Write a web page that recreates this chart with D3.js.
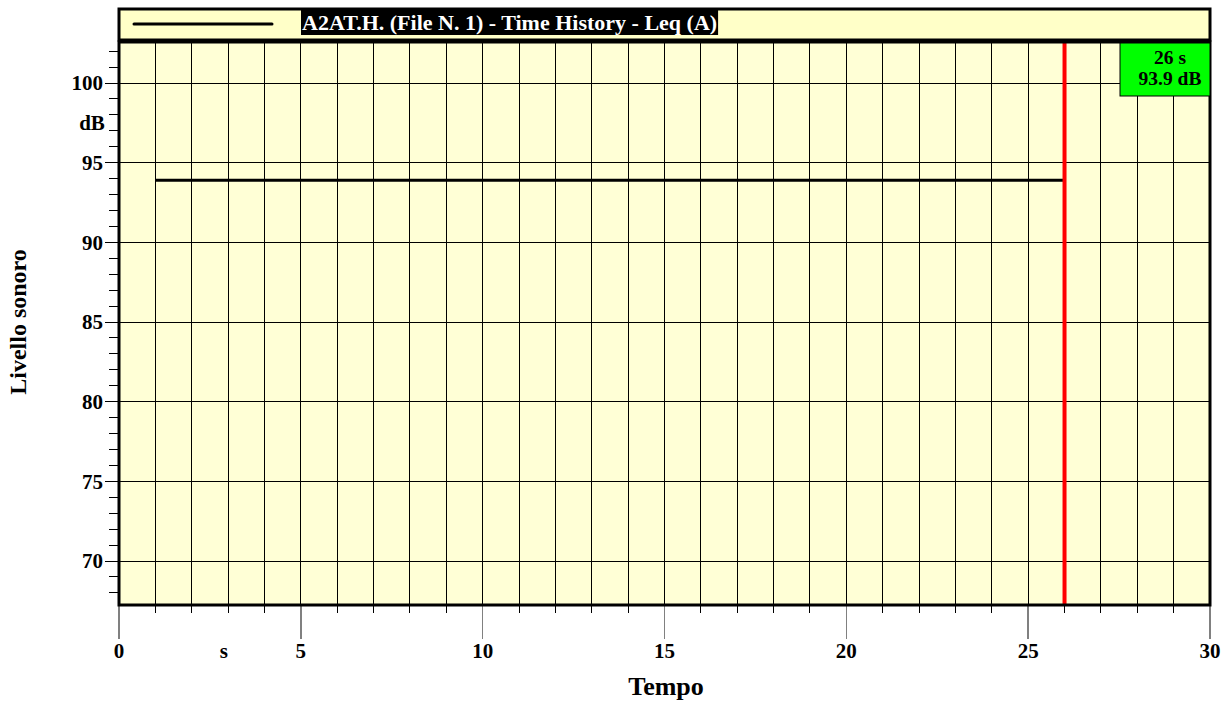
<!DOCTYPE html>
<html><head><meta charset="utf-8">
<script src="https://cdn.jsdelivr.net/npm/d3@7"></script>
<style>
body{margin:0;background:#fff;}
text{font-family:"Liberation Serif","Times New Roman",serif;font-weight:bold;}
</style></head>
<body>
<svg id="c" width="1231" height="702"></svg>
<script>
// Data
const times = [1,2,3,4,5,6,7,8,9,10,11,12,13,14,15,16,17,18,19,20,21,22,23,24,25,26];
const leq   = [93.9,93.9,93.9,93.9,93.9,93.9,93.9,93.9,93.9,93.9,93.9,93.9,93.9,93.9,93.9,93.9,93.9,93.9,93.9,93.9,93.9,93.9,93.9,93.9,93.9,93.9];
const xTickLabels = [0,5,10,15,20,25,30];
const yTickLabels = [70,75,80,85,90,95,100];
const cursorTime = 26;
const cursorValue = 93.9;
const seriesName = "A2AT.H. (File N. 1) - Time History - Leq (A)";

const svg = d3.select("#c");
const L = 119, R = 1210, T = 42, B = 605;
const x = d3.scaleLinear().domain([0,30]).range([L,R]);
const y = d3.scaleLinear().domain([70,100]).range([561,83]);

// plot background
svg.append("rect").attr("x",L).attr("y",T).attr("width",R-L).attr("height",B-T).attr("fill","#ffffd6");

// vertical grid every 1 s
const g = svg.append("g").attr("shape-rendering","crispEdges");
d3.range(1,30).forEach(v=>{
  g.append("line").attr("x1",x(v)).attr("x2",x(v)).attr("y1",T).attr("y2",B).attr("stroke","#000").attr("stroke-width",1);
});
// horizontal grid every 5 dB
yTickLabels.forEach(v=>{
  g.append("line").attr("x1",L).attr("x2",R).attr("y1",y(v)).attr("y2",y(v)).attr("stroke","#000").attr("stroke-width",1);
});

// y ticks (minor 1 dB, major 5 dB)
d3.range(68,103).forEach(v=>{
  const major = v%5===0;
  g.append("line").attr("x1",major?105:109).attr("x2",L).attr("y1",y(v)).attr("y2",y(v)).attr("stroke","#000");
});
yTickLabels.forEach(v=>{
  svg.append("text").attr("x",103).attr("y",y(v)).attr("dy","0.35em").attr("text-anchor","end").attr("font-size",21).text(v);
});
svg.append("text").attr("x",92).attr("y",y(97.5)).attr("dy","0.35em").attr("text-anchor","middle").attr("font-size",21).text("dB");

// x ticks
d3.range(0,31).forEach(v=>{
  const major = v%5===0;
  g.append("line").attr("x1",x(v)).attr("x2",x(v)).attr("y1",B).attr("y2",major?639:613)
    .attr("stroke",major?"#808080":"#000").attr("stroke-width",major?1.5:1);
});
xTickLabels.forEach(v=>{
  svg.append("text").attr("x",x(v)).attr("y",658).attr("text-anchor","middle").attr("font-size",21).text(v);
});
svg.append("text").attr("x",x(2.88)).attr("y",658).attr("text-anchor","middle").attr("font-size",21).text("s");

// axis titles
svg.append("text").attr("x",666).attr("y",695).attr("text-anchor","middle").attr("font-size",26).text("Tempo");
svg.append("text").attr("transform","translate(26,322) rotate(-90)").attr("text-anchor","middle").attr("font-size",24).text("Livello sonoro");

// data line
const line = d3.line().x((d,i)=>x(times[i])).y(d=>y(d));
svg.append("path").datum(leq).attr("d",line).attr("fill","none").attr("stroke","#000").attr("stroke-width",3);

// cursor
svg.append("line").attr("x1",x(cursorTime)).attr("x2",x(cursorTime)).attr("y1",T).attr("y2",B).attr("stroke","#ff0000").attr("stroke-width",4);

// plot border
svg.append("rect").attr("x",L).attr("y",T).attr("width",R-L).attr("height",B-T).attr("fill","none").attr("stroke","#000").attr("stroke-width",3);

// cursor readout box
svg.append("rect").attr("x",1120).attr("y",T+1).attr("width",R-1120).attr("height",53).attr("fill","#00ff00").attr("stroke","#000").attr("stroke-width",1);
svg.append("text").attr("x",1170).attr("y",64).attr("text-anchor","middle").attr("font-size",19.5).text(cursorTime+" s");
svg.append("text").attr("x",1170).attr("y",85).attr("text-anchor","middle").attr("font-size",19.5).text(cursorValue.toFixed(1)+" dB");

// legend
svg.append("rect").attr("x",L).attr("y",9).attr("width",R-L).attr("height",31).attr("fill","#ffffc8").attr("stroke","#000").attr("stroke-width",3);
svg.append("line").attr("x1",134).attr("x2",272).attr("y1",24).attr("y2",24).attr("stroke","#000").attr("stroke-width",3).attr("stroke-linecap","round");
const lt = svg.append("text").attr("x",302).attr("y",30).attr("font-size",22).attr("fill","#fff").text(seriesName);
const bb = lt.node().getBBox();
svg.insert("rect","text:last-of-type").attr("x",301).attr("y",10).attr("width",bb.width+2).attr("height",25).attr("fill","#000");
lt.raise();
</script>
</body></html>
